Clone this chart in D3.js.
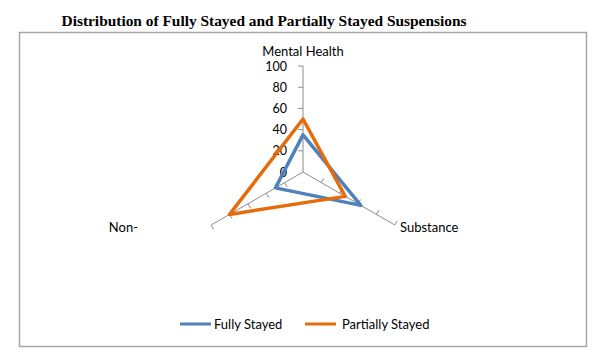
<!DOCTYPE html>
<html><head><meta charset="utf-8">
<script src="https://cdn.jsdelivr.net/npm/d3@7"></script>
<style>body{margin:0;background:#fff}svg{display:block}</style>
</head><body>
<svg id="c" width="600" height="361"></svg>
<script>
const categories = ["Mental Health", "Substance", "Non-"];
const fullyStayed = [35, 63, 30];
const partiallyStayed = [50, 46, 80];
const tickValues = [0, 20, 40, 60, 80, 100];
const seriesNames = ["Fully Stayed", "Partially Stayed"];
const colors = ["#4F81BD", "#E46C0A"];

const svg = d3.select("#c");
const cx = 303, cy = 172, R = 106;
const font = "Lato, 'Open Sans', sans-serif";

svg.append("rect").attr("x", 19.5).attr("y", 32.5).attr("width", 567).attr("height", 314)
  .attr("fill", "#fff").attr("stroke", "#a6a6a6").attr("stroke-width", 1.5);

svg.append("text").attr("x", 264).attr("y", 26).attr("text-anchor", "middle")
  .attr("font-family", "'Liberation Serif','Times New Roman',serif").attr("font-weight", "bold")
  .attr("font-size", 15.4).attr("fill", "#000").text("Distribution of Fully Stayed and Partially Stayed Suspensions");

const r = d3.scaleLinear().domain([0, 100]).range([0, R]);
const angle = d3.scalePoint().domain(categories).range([0, 240]);
const pt = (cat, v) => {
  const a = (angle(cat) - 90) * Math.PI / 180;
  return [cx + r(v) * Math.cos(a), cy + r(v) * Math.sin(a)];
};

const g = svg.append("g");
categories.forEach(cat => {
  const [x2, y2] = pt(cat, 100);
  g.append("line").attr("x1", cx).attr("y1", cy).attr("x2", x2).attr("y2", y2)
    .attr("stroke", "#8c8c8c").attr("stroke-width", 1);
  const a = (angle(cat)) * Math.PI / 180;
  const tx = -Math.cos(a), ty = -Math.sin(a);
  tickValues.slice(1).forEach(v => {
    const [px, py] = pt(cat, v);
    g.append("line").attr("x1", px).attr("y1", py).attr("x2", px + tx * 5).attr("y2", py + ty * 5)
      .attr("stroke", "#8c8c8c").attr("stroke-width", 1);
  });
});

tickValues.forEach(v => {
  const [px, py] = pt(categories[0], v);
  g.append("text").attr("x", px - 16).attr("y", py + 4.5).attr("text-anchor", "end")
    .attr("font-family", font).attr("font-size", 12.5).attr("fill", "#000").text(v);
});

const lab = [
  {x: 303, y: 56, anchor: "middle"},
  {x: 400, y: 232, anchor: "start"},
  {x: 138, y: 232, anchor: "end"}
];
categories.forEach((cat, i) => {
  g.append("text").attr("x", lab[i].x).attr("y", lab[i].y).attr("text-anchor", lab[i].anchor)
    .attr("font-family", font).attr("font-size", 13).attr("fill", "#000").text(cat);
});

const line = d3.line().curve(d3.curveLinearClosed);
[fullyStayed, partiallyStayed].forEach((vals, si) => {
  g.append("path").attr("d", line(categories.map((c, i) => pt(c, vals[i]))))
    .attr("fill", "none").attr("stroke", colors[si]).attr("stroke-width", 3.5)
    .attr("stroke-linejoin", "round");
});

const leg = [{lx: 180, tx: 214}, {lx: 305, tx: 342}];
seriesNames.forEach((n, i) => {
  svg.append("line").attr("x1", leg[i].lx).attr("x2", leg[i].lx + 31).attr("y1", 324).attr("y2", 324)
    .attr("stroke", colors[i]).attr("stroke-width", 3);
  svg.append("text").attr("x", leg[i].tx).attr("y", 329).attr("font-family", font)
    .attr("font-size", 13).attr("fill", "#000").text(n);
});
</script>
</body></html>
